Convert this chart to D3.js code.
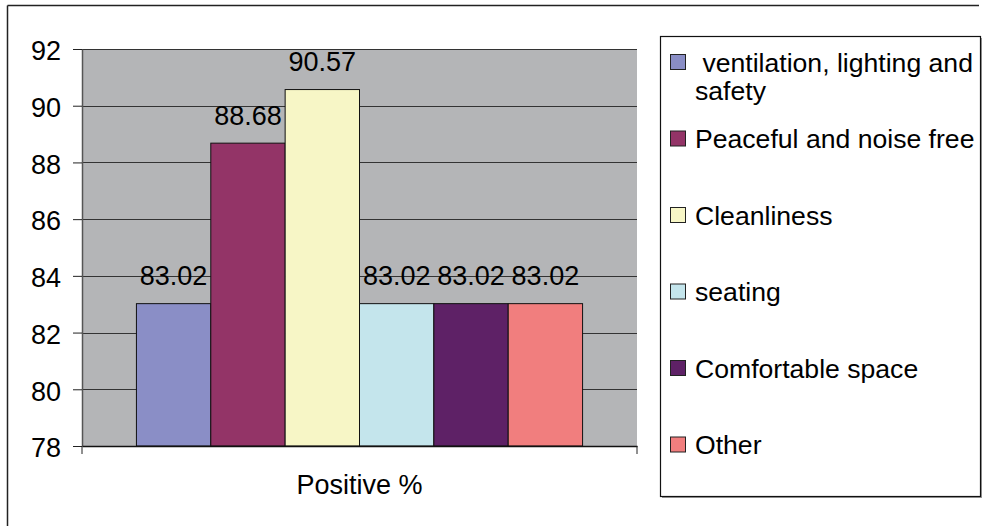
<!DOCTYPE html>
<html>
<head>
<meta charset="utf-8">
<script src="https://cdn.jsdelivr.net/npm/d3@7"></script>
<style>
  html, body { margin: 0; padding: 0; background: #fff; }
  svg { display: block; font-family: "Liberation Sans", Arial, sans-serif; }
</style>
</head>
<body>
<svg id="chart" width="983" height="526"></svg>
<script>
const categories = ["Positive %"];
const seriesNames = [" ventilation, lighting and|safety", "Peaceful and noise free", "Cleanliness", "seating", "Comfortable space", "Other"];
const seriesValues = [83.02, 88.68, 90.57, 83.02, 83.02, 83.02];
const seriesColors = ["#8a8ec6", "#933467", "#f7f6c6", "#c4e5ec", "#5e2166", "#f17e7e"];
const yTicks = [78, 80, 82, 84, 86, 88, 90, 92];

const svg = d3.select("#chart");
const plot = { left: 82, right: 637, top: 49, bottom: 446 };
const fs = 27;
const lfs = 26.6;

// outer frame (only left and top visible)
svg.append("line").attr("x1", 7.5).attr("y1", 5.5).attr("x2", 979).attr("y2", 5.5).attr("stroke", "#222").attr("stroke-width", 1.5);
svg.append("line").attr("x1", 7.5).attr("y1", 5.5).attr("x2", 7.5).attr("y2", 526).attr("stroke", "#222").attr("stroke-width", 1.5);

const y = d3.scaleLinear().domain([78, 92]).range([plot.bottom, plot.top]);
const x0 = d3.scaleBand().domain(categories).range([plot.left, plot.right]).paddingInner(0).paddingOuter(0.122);
const x1 = d3.scaleBand().domain(d3.range(seriesValues.length)).range([0, x0.bandwidth()]).padding(0);

// plot background
svg.append("rect").attr("x", plot.left).attr("y", plot.top)
  .attr("width", plot.right - plot.left).attr("height", plot.bottom - plot.top)
  .attr("fill", "#b4b5b7");

// gridlines
svg.append("g").selectAll("line").data(yTicks.filter(t => t !== 78)).join("line")
  .attr("x1", plot.left).attr("x2", plot.right)
  .attr("y1", d => Math.round(y(d)) + 0.5).attr("y2", d => Math.round(y(d)) + 0.5)
  .attr("stroke", "#333").attr("stroke-width", 1);

// y axis
const yAxis = d3.axisLeft(y).tickValues(yTicks).tickSize(9).tickSizeOuter(0).tickPadding(12);
const gy = svg.append("g").attr("transform", `translate(${plot.left},0)`).call(yAxis);
gy.select(".domain").attr("stroke", "#555").attr("stroke-width", 1.5);
gy.selectAll(".tick line").attr("stroke", "#222");
gy.selectAll(".tick text").attr("font-size", fs).attr("font-family", "Liberation Sans, Arial, sans-serif")
  .attr("fill", "#000").attr("dy", "0.4em");

// bars
const group = svg.append("g").selectAll("g").data(categories).join("g")
  .attr("transform", d => `translate(${x0(d)},0)`);
group.selectAll("rect").data(seriesValues.map((v, i) => ({ v, i }))).join("rect")
  .attr("x", d => x1(d.i)).attr("y", d => y(d.v))
  .attr("width", x1.bandwidth()).attr("height", d => y(78) - y(d.v))
  .attr("fill", d => seriesColors[d.i]).attr("stroke", "#111").attr("stroke-width", 1);
group.selectAll("text").data(seriesValues.map((v, i) => ({ v, i }))).join("text")
  .attr("x", d => x1(d.i) + x1.bandwidth() / 2).attr("y", d => y(d.v) - 18.5)
  .attr("text-anchor", "middle").attr("font-size", fs).attr("fill", "#000")
  .text(d => d3.format(".2f")(d.v));

// x axis
const xAxis = d3.axisBottom(x0).tickSize(0).tickPadding(29);
const gx = svg.append("g").attr("transform", `translate(0,${plot.bottom})`).call(xAxis);
gx.select(".domain").attr("stroke", "#111").attr("stroke-width", 1.5);
gx.selectAll(".tick text").attr("font-size", fs).attr("font-family", "Liberation Sans, Arial, sans-serif").attr("fill", "#000").attr("dy", "0.71em");
// x axis end ticks
svg.append("g").selectAll("line").data([plot.left, plot.right]).join("line")
  .attr("x1", d => d).attr("x2", d => d).attr("y1", plot.bottom).attr("y2", plot.bottom + 8)
  .attr("stroke", "#222").attr("stroke-width", 1);

// legend
const lg = svg.append("g");
lg.append("rect").attr("x", 662).attr("y", 38).attr("width", 320).attr("height", 460).attr("fill", "#999");
lg.append("rect").attr("x", 660.5).attr("y", 36.5).attr("width", 320).attr("height", 460)
  .attr("fill", "#fff").attr("stroke", "#111").attr("stroke-width", 1.2);
const items = lg.selectAll("g.item").data(seriesNames.map((n, i) => ({ n, i }))).join("g")
  .attr("class", "item")
  .attr("transform", d => `translate(0,${62 + d.i * 76.5})`);
items.append("rect").attr("x", 670.5).attr("y", -7.5).attr("width", 15).attr("height", 15)
  .attr("fill", d => seriesColors[d.i]).attr("stroke", "#222").attr("stroke-width", 1);
items.each(function (d) {
  const lines = d.n.split("|");
  const t = d3.select(this).append("text").attr("x", 695).attr("y", 9.5)
    .attr("font-size", lfs).attr("fill", "#000").style("white-space", "pre");
  lines.forEach((ln, k) => {
    t.append("tspan").attr("x", 695).attr("dy", k === 0 ? 0 : 28.5).text(ln);
  });
});
</script>
</body>
</html>
